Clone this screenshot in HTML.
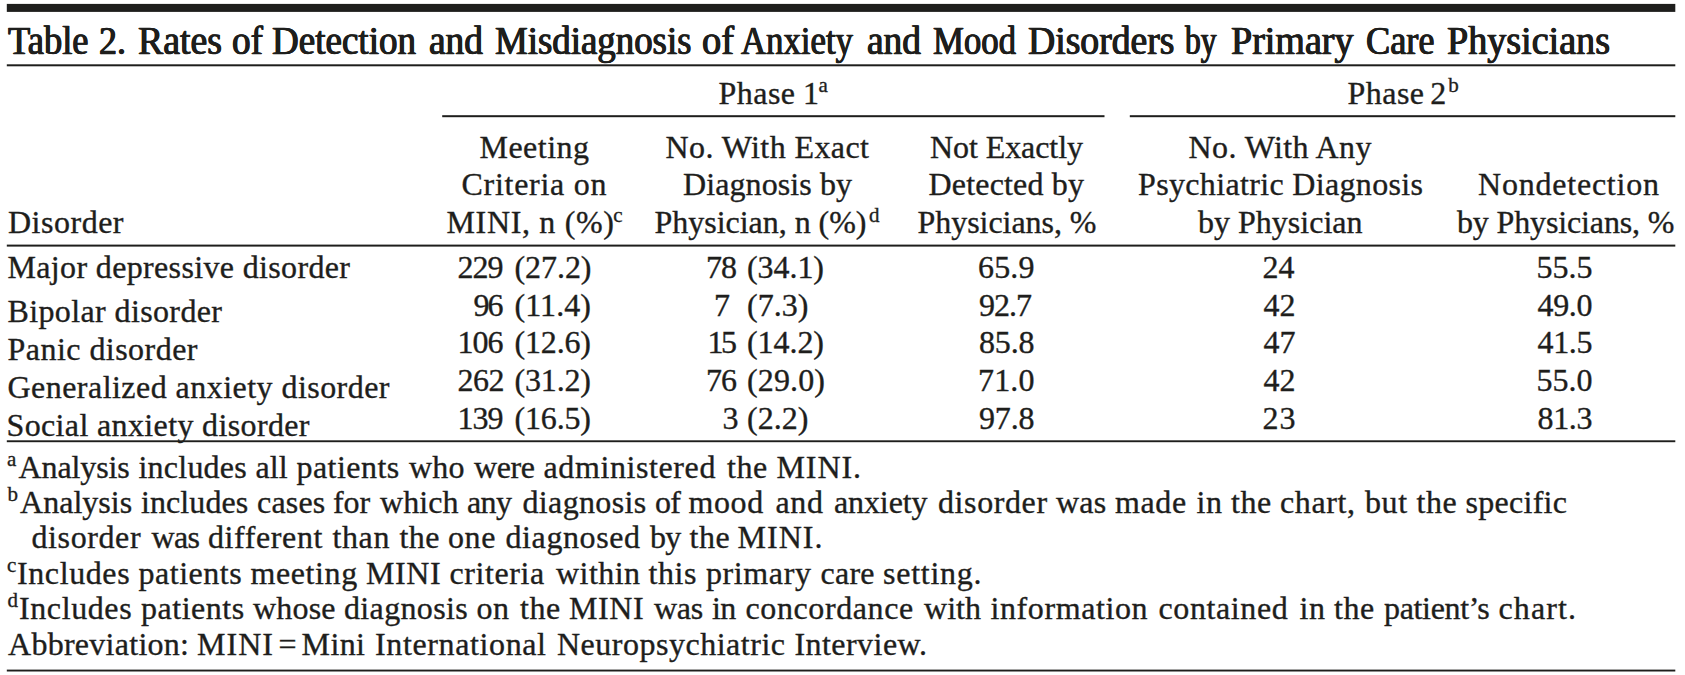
<!DOCTYPE html>
<html lang="en">
<head>
<meta charset="utf-8">
<title>Table 2</title>
<style>
html,body{margin:0;padding:0;background:#fff}
body{width:1685px;height:675px;position:relative;overflow:hidden;color:#1e1e1c;font-family:"Liberation Serif",serif;font-size:32px}
.x{position:absolute;white-space:pre;line-height:1;display:block;-webkit-text-stroke:0.35px #1e1e1c}
.t{font-size:39.5px;font-weight:400;transform-origin:0 0;-webkit-text-stroke:0.5px #1e1e1c;text-shadow:0.5px 0 0 #1e1e1c,-0.5px 0 0 #1e1e1c}
.s{font-size:21px}
</style>
</head>
<body>
<svg width="1685" height="675" viewBox="0 0 1685 675" style="position:absolute;left:0;top:0">
<rect x="6.8" y="3.9" width="1668.5" height="8.0" fill="#1e1e1c"/>
<rect x="6.8" y="64.3" width="1668.5" height="2.0" fill="#1e1e1c"/>
<rect x="442.2" y="115.2" width="662.3" height="2.0" fill="#1e1e1c"/>
<rect x="1129.8" y="115.2" width="545.5" height="2.0" fill="#1e1e1c"/>
<rect x="6.8" y="244.6" width="1668.5" height="2.0" fill="#1e1e1c"/>
<rect x="6.8" y="440.3" width="1668.5" height="1.9" fill="#1e1e1c"/>
<rect x="6.8" y="669.6" width="1668.5" height="1.9" fill="#1e1e1c"/>
</svg>
<span class="x t" style="left:8.00px;top:22px;transform:scaleX(0.9235)">Table </span>
<span class="x t" style="left:98.50px;top:22px;transform:scaleX(0.9114)">2. </span>
<span class="x t" style="left:138.00px;top:22px;transform:scaleX(0.9571)">Rates </span>
<span class="x t" style="left:232.00px;top:22px;transform:scaleX(0.9421)">of </span>
<span class="x t" style="left:271.50px;top:22px;transform:scaleX(0.9378)">Detection </span>
<span class="x t" style="left:428.50px;top:22px;transform:scaleX(0.9466)">and </span>
<span class="x t" style="left:495.00px;top:22px;transform:scaleX(0.9326)">Misdiagnosis </span>
<span class="x t" style="left:702.00px;top:22px;transform:scaleX(0.9725)">of </span>
<span class="x t" style="left:741.00px;top:22px;transform:scaleX(0.8800)">Anxiety </span>
<span class="x t" style="left:866.50px;top:22px;transform:scaleX(0.9466)">and </span>
<span class="x t" style="left:932.50px;top:22px;transform:scaleX(0.8795)">Mood </span>
<span class="x t" style="left:1028.00px;top:22px;transform:scaleX(0.9538)">Disorders </span>
<span class="x t" style="left:1185.00px;top:22px;transform:scaleX(0.7975)">by </span>
<span class="x t" style="left:1231.00px;top:22px;transform:scaleX(0.9626)">Primary </span>
<span class="x t" style="left:1366.00px;top:22px;transform:scaleX(0.9185)">Care </span>
<span class="x t" style="left:1447.00px;top:22px;transform:scaleX(0.9646)">Physicians</span>
<span class="x" style="left:718.50px;top:77px;letter-spacing:0.461px">Phase </span>
<span class="x" style="left:803.00px;top:77px">1</span><span class="x s" style="left:818.59px;top:75px">a </span>
<span class="x" style="left:1347.50px;top:77px;letter-spacing:0.461px">Phase </span>
<span class="x" style="left:1430.25px;top:77px">2</span><span class="x s" style="left:1448.25px;top:75px">b </span>
<span class="x" style="left:8.00px;top:206px;letter-spacing:0.504px">Disorder </span>
<span class="x" style="left:479.50px;top:131px;letter-spacing:0.477px">Meeting </span>
<span class="x" style="left:461.50px;top:168px;letter-spacing:0.727px">Criteria on </span>
<span class="x" style="left:446.50px;top:206px;letter-spacing:0.666px">MINI, n (%)</span><span class="x s" style="left:613.34px;top:205px">c </span>
<span class="x" style="left:665.50px;top:131px;letter-spacing:0.417px">No. With Exact </span>
<span class="x" style="left:683.00px;top:168px;letter-spacing:0.091px">Diagnosis by </span>
<span class="x" style="left:654.50px;top:206px;letter-spacing:-0.027px">Physician, n (%)</span><span class="x s" style="left:869.00px;top:205px">d </span>
<span class="x" style="left:930.00px;top:131px;letter-spacing:-0.073px">Not Exactly </span>
<span class="x" style="left:928.50px;top:168px;letter-spacing:0.180px">Detected by </span>
<span class="x" style="left:917.50px;top:206px;letter-spacing:-0.046px">Physicians, % </span>
<span class="x" style="left:1188.50px;top:131px;letter-spacing:0.402px">No. With Any </span>
<span class="x" style="left:1138.00px;top:168px;letter-spacing:0.341px">Psychiatric Diagnosis </span>
<span class="x" style="left:1198.00px;top:206px;letter-spacing:0.006px">by Physician </span>
<span class="x" style="left:1478.00px;top:168px;letter-spacing:0.783px">Nondetection </span>
<span class="x" style="left:1457.00px;top:206px;letter-spacing:-0.136px">by Physicians, % </span>
<span class="x" style="left:7.50px;top:251px;letter-spacing:0.349px">Major depressive disorder </span>
<span class="x" style="left:457.50px;top:251px;letter-spacing:-1.000px">229 </span>
<span class="x" style="left:514.50px;top:251px;letter-spacing:-0.062px">(27.2) </span>
<span class="x" style="left:706.00px;top:251px;letter-spacing:-1.000px">78 </span>
<span class="x" style="left:747.00px;top:251px;letter-spacing:-0.062px">(34.1) </span>
<span class="x" style="left:978.00px;top:251px;letter-spacing:0.167px">65.9 </span>
<span class="x" style="left:1262.50px;top:251px">24 </span>
<span class="x" style="left:1536.50px;top:251px">55.5 </span>
<span class="x" style="left:7.50px;top:295px;letter-spacing:0.377px">Bipolar disorder </span>
<span class="x" style="left:473.50px;top:289px;letter-spacing:-2.000px">96 </span>
<span class="x" style="left:514.50px;top:289px;letter-spacing:0.075px">(11.4) </span>
<span class="x" style="left:714.00px;top:289px">7 </span>
<span class="x" style="left:747.00px;top:289px;letter-spacing:0.047px">(7.3) </span>
<span class="x" style="left:979.00px;top:289px;letter-spacing:-1.000px">92.7 </span>
<span class="x" style="left:1263.50px;top:289px">42 </span>
<span class="x" style="left:1537.50px;top:289px;letter-spacing:-0.333px">49.0 </span>
<span class="x" style="left:7.50px;top:333px;letter-spacing:0.465px">Panic disorder </span>
<span class="x" style="left:457.50px;top:326px;letter-spacing:-1.000px">106 </span>
<span class="x" style="left:514.50px;top:326px;letter-spacing:-0.162px">(12.6) </span>
<span class="x" style="left:707.50px;top:326px;letter-spacing:-2.500px">15 </span>
<span class="x" style="left:747.00px;top:326px;letter-spacing:-0.062px">(14.2) </span>
<span class="x" style="left:979.00px;top:326px;letter-spacing:-0.167px">85.8 </span>
<span class="x" style="left:1263.50px;top:326px">47 </span>
<span class="x" style="left:1537.50px;top:326px;letter-spacing:-0.333px">41.5 </span>
<span class="x" style="left:7.50px;top:371px;letter-spacing:0.459px">Generalized anxiety disorder </span>
<span class="x" style="left:457.50px;top:364px;letter-spacing:-0.500px">262 </span>
<span class="x" style="left:514.50px;top:364px;letter-spacing:-0.162px">(31.2) </span>
<span class="x" style="left:706.00px;top:364px;letter-spacing:-1.000px">76 </span>
<span class="x" style="left:747.00px;top:364px;letter-spacing:0.138px">(29.0) </span>
<span class="x" style="left:978.00px;top:364px;letter-spacing:0.167px">71.0 </span>
<span class="x" style="left:1263.50px;top:364px">42 </span>
<span class="x" style="left:1536.50px;top:364px">55.0 </span>
<span class="x" style="left:6.50px;top:409px;letter-spacing:0.362px">Social anxiety disorder </span>
<span class="x" style="left:457.50px;top:402px;letter-spacing:-1.000px">139 </span>
<span class="x" style="left:514.50px;top:402px;letter-spacing:-0.162px">(16.5) </span>
<span class="x" style="left:722.50px;top:402px">3 </span>
<span class="x" style="left:747.00px;top:402px;letter-spacing:0.047px">(2.2) </span>
<span class="x" style="left:979.00px;top:402px;letter-spacing:-0.167px">97.8 </span>
<span class="x" style="left:1262.50px;top:402px;letter-spacing:1.000px">23 </span>
<span class="x" style="left:1537.50px;top:402px;letter-spacing:-0.333px">81.3 </span>
<span class="x s" style="left:7.09px;top:449px">a</span><span class="x" style="left:18.50px;top:451px;letter-spacing:-0.109px">Analysis </span>
<span class="x" style="left:138.50px;top:451px;letter-spacing:0.228px">includes </span>
<span class="x" style="left:255.50px;top:451px;letter-spacing:0.031px">all </span>
<span class="x" style="left:296.50px;top:451px;letter-spacing:0.458px">patients </span>
<span class="x" style="left:409.00px;top:451px;letter-spacing:0.195px">who </span>
<span class="x" style="left:474.00px;top:451px;letter-spacing:-0.396px">were </span>
<span class="x" style="left:543.50px;top:451px;letter-spacing:0.600px">administered </span>
<span class="x" style="left:727.00px;top:451px;letter-spacing:0.600px">the </span>
<span class="x" style="left:776.50px;top:451px;letter-spacing:0.906px">MINI.</span>
<span class="x s" style="left:7.50px;top:484px">b</span><span class="x" style="left:20.00px;top:486px;letter-spacing:0.033px">Analysis </span>
<span class="x" style="left:141.00px;top:486px;letter-spacing:0.085px">includes </span>
<span class="x" style="left:257.00px;top:486px;letter-spacing:0.180px">cases </span>
<span class="x" style="left:333.00px;top:486px;letter-spacing:-0.047px">for </span>
<span class="x" style="left:380.00px;top:486px;letter-spacing:0.074px">which </span>
<span class="x" style="left:467.00px;top:486px;letter-spacing:-0.602px">any </span>
<span class="x" style="left:522.50px;top:486px;letter-spacing:0.355px">diagnosis </span>
<span class="x" style="left:655.00px;top:486px;letter-spacing:-0.700px">of </span>
<span class="x" style="left:688.50px;top:486px;letter-spacing:0.600px">mood </span>
<span class="x" style="left:775.50px;top:486px;letter-spacing:0.600px">and </span>
<span class="x" style="left:834.00px;top:486px;letter-spacing:-0.115px">anxiety </span>
<span class="x" style="left:938.00px;top:486px;letter-spacing:0.600px">disorder </span>
<span class="x" style="left:1056.00px;top:486px;letter-spacing:0.234px">was </span>
<span class="x" style="left:1115.00px;top:486px;letter-spacing:0.600px">made </span>
<span class="x" style="left:1196.50px;top:486px;letter-spacing:0.600px">in </span>
<span class="x" style="left:1231.00px;top:486px;letter-spacing:0.600px">the </span>
<span class="x" style="left:1280.00px;top:486px;letter-spacing:0.600px">chart, </span>
<span class="x" style="left:1365.00px;top:486px;letter-spacing:0.600px">but </span>
<span class="x" style="left:1416.50px;top:486px;letter-spacing:0.600px">the </span>
<span class="x" style="left:1465.50px;top:486px;letter-spacing:0.286px">specific</span>
<span class="x" style="left:31.50px;top:521px;letter-spacing:0.600px">disorder </span>
<span class="x" style="left:151.50px;top:521px;letter-spacing:-0.700px">was </span>
<span class="x" style="left:208.00px;top:521px;letter-spacing:0.600px">different </span>
<span class="x" style="left:332.50px;top:521px;letter-spacing:0.600px">than </span>
<span class="x" style="left:399.50px;top:521px;letter-spacing:0.445px">the </span>
<span class="x" style="left:448.00px;top:521px;letter-spacing:0.600px">one </span>
<span class="x" style="left:505.50px;top:521px;letter-spacing:0.600px">diagnosed </span>
<span class="x" style="left:650.00px;top:521px;letter-spacing:-0.700px">by </span>
<span class="x" style="left:689.50px;top:521px;letter-spacing:0.600px">the </span>
<span class="x" style="left:737.50px;top:521px;letter-spacing:1.031px">MINI.</span>
<span class="x s" style="left:7.09px;top:555px">c</span><span class="x" style="left:17.00px;top:557px;letter-spacing:0.600px">Includes </span>
<span class="x" style="left:138.50px;top:557px;letter-spacing:0.529px">patients </span>
<span class="x" style="left:250.50px;top:557px;letter-spacing:0.600px">meeting </span>
<span class="x" style="left:366.00px;top:557px;letter-spacing:0.600px">MINI </span>
<span class="x" style="left:449.50px;top:557px;letter-spacing:0.600px">criteria </span>
<span class="x" style="left:556.00px;top:557px;letter-spacing:0.444px">within </span>
<span class="x" style="left:648.50px;top:557px;letter-spacing:0.600px">this </span>
<span class="x" style="left:706.00px;top:557px;letter-spacing:0.600px">primary </span>
<span class="x" style="left:820.50px;top:557px;letter-spacing:0.240px">care </span>
<span class="x" style="left:883.00px;top:557px;letter-spacing:0.739px">setting.</span>
<span class="x s" style="left:7.50px;top:590px">d</span><span class="x" style="left:19.00px;top:592px;letter-spacing:0.600px">Includes </span>
<span class="x" style="left:141.00px;top:592px;letter-spacing:0.529px">patients </span>
<span class="x" style="left:253.00px;top:592px;letter-spacing:0.180px">whose </span>
<span class="x" style="left:344.00px;top:592px;letter-spacing:0.355px">diagnosis </span>
<span class="x" style="left:476.50px;top:592px;letter-spacing:0.600px">on </span>
<span class="x" style="left:520.00px;top:592px;letter-spacing:0.600px">the </span>
<span class="x" style="left:569.00px;top:592px;letter-spacing:0.600px">MINI </span>
<span class="x" style="left:654.00px;top:592px;letter-spacing:-0.266px">was </span>
<span class="x" style="left:712.00px;top:592px;letter-spacing:-0.700px">in </span>
<span class="x" style="left:745.50px;top:592px;letter-spacing:0.600px">concordance </span>
<span class="x" style="left:924.00px;top:592px;letter-spacing:0.036px">with </span>
<span class="x" style="left:990.50px;top:592px;letter-spacing:0.600px">information </span>
<span class="x" style="left:1158.50px;top:592px;letter-spacing:0.600px">contained </span>
<span class="x" style="left:1299.50px;top:592px;letter-spacing:0.600px">in </span>
<span class="x" style="left:1334.00px;top:592px;letter-spacing:0.600px">the </span>
<span class="x" style="left:1384.00px;top:592px;letter-spacing:-0.336px">patient’s </span>
<span class="x" style="left:1498.50px;top:592px;letter-spacing:1.109px">chart.</span>
<span class="x" style="left:8.00px;top:628px;letter-spacing:0.272px">Abbreviation: </span>
<span class="x" style="left:197.00px;top:628px;letter-spacing:1.042px">MINI </span>
<span class="x" style="left:278.48px;top:628px">= </span>
<span class="x" style="left:301.50px;top:628px;letter-spacing:0.422px">Mini </span>
<span class="x" style="left:375.00px;top:628px;letter-spacing:0.626px">International </span>
<span class="x" style="left:557.00px;top:628px;letter-spacing:0.509px">Neuropsychiatric </span>
<span class="x" style="left:794.50px;top:628px;letter-spacing:0.441px">Interview. </span>
</body>
</html>
